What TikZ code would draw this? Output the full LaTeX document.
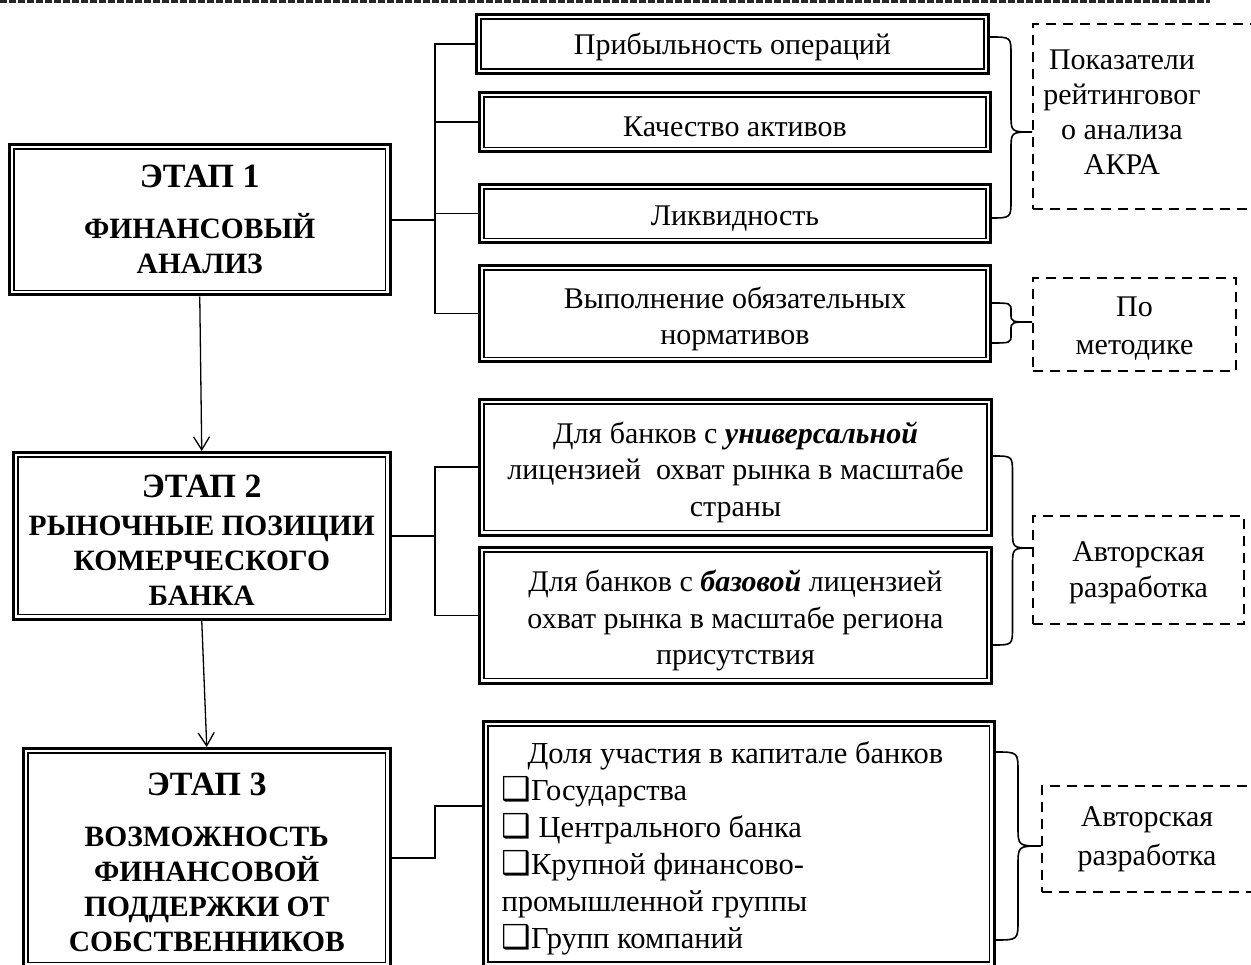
\documentclass[tikz,border=0pt]{standalone}
\usepackage{fontspec}
\setmainfont{Liberation Serif}
\newfontfamily\symfont{DejaVu Sans}
\usetikzlibrary{arrows.meta}
\newcommand{\cbx}{{\symfont\fontsize{33}{33}\selectfont ❑}}
\newcommand{\st}[1]{\rule{0pt}{#1pt}}
\newcommand{\mybrace}[6]{%
  \pgfmathsetmacro{\bxm}{(#1+#4)/2}%
  \draw[brc] (#1,#2) .. controls (\bxm,#2) .. (\bxm,#2+#6) -- (\bxm,#5-#6)
    .. controls (\bxm,#5) .. (#4,#5) .. controls (\bxm,#5) .. (\bxm,#5+#6)
    -- (\bxm,#3-#6) .. controls (\bxm,#3) .. (#1,#3);}
\begin{document}
\begin{tikzpicture}[x=1pt,y=-1pt,
  box/.style={draw, line width=3pt, inner sep=0pt, align=center,
    font=\fontsize{30}{36.5}\selectfont},
  stage/.style={box, font=\bfseries\fontsize{29.5}{35}\selectfont},
  dbox/.style={draw, dash pattern=on 10pt off 7pt, line width=2.5pt, inner sep=0pt,
    align=center, font=\fontsize{30}{36}\selectfont},
  lbl/.style={align=center, inner sep=0pt, font=\fontsize{30}{35}\selectfont},
  innerline/.style={line width=1.8pt},
  conn/.style={line width=1.5pt},
  arr/.style={line width=1.3pt, -{Straight Barb[length=13pt,width=16pt,line width=1.3pt]}},
  brc/.style={line width=1.6pt}]
\useasboundingbox (0,0) rectangle (1251,965);
\clip (0,0) rectangle (1251,965);

% top dashed rule
\draw[dash pattern=on 7pt off 2pt, line width=2.2pt, black!85] (0,1.5) -- (1210,1.5);

% stage boxes
\node[stage, minimum width=380.5pt, minimum height=150.5pt] (s1) at (199.75,219.75)
  {{\fontsize{34}{40}\selectfont ЭТАП 1}\\[16pt] ФИНАНСОВЫЙ\\ АНАЛИЗ};
\node[stage, minimum width=376.5pt, minimum height=166.5pt] (s2) at (201.75,535.75)
  {\st{31}{\fontsize{34}{40}\selectfont ЭТАП 2}\\[3pt] РЫНОЧНЫЕ ПОЗИЦИИ\\ КОМЕРЧЕСКОГО\\ БАНКА};
\node[stage, minimum width=366.5pt, minimum height=218.5pt] (s3) at (206.75,857.75)
  {\st{31}{\fontsize{34}{40}\selectfont ЭТАП 3}\\[16pt] ВОЗМОЖНОСТЬ\\ ФИНАНСОВОЙ\\ ПОДДЕРЖКИ ОТ\\ СОБСТВЕННИКОВ};

% right boxes
\node[box, minimum width=512pt, minimum height=59pt] (b1) at (732.5,44) {\st{27}Прибыльность операций};
\node[box, minimum width=511pt, minimum height=59.5pt] (b2) at (735,122.25) {\st{28}Качество активов};
\node[box, minimum width=511pt, minimum height=58.5pt] (b3) at (735,213.75) {\st{30}Ликвидность};
\node[box, minimum width=511pt, minimum height=96.5pt] (b4) at (735,313.75)
  {\st{32}Выполнение обязательных\\ нормативов};
\node[box, minimum width=512pt, minimum height=135.5pt] (b5) at (735.5,467.25)
  {\st{31}Для банков с \textbf{\textit{универсальной}}\\ лицензией~ охват рынка в масштабе\\ страны};
\node[box, minimum width=512pt, minimum height=135.5pt] (b6) at (735.5,615.25)
  {\st{32}Для банков с \textbf{\textit{базовой}} лицензией\\ охват рынка в масштабе региона\\ присутствия};
\node[box, minimum width=510.5pt, minimum height=245pt, align=flush left, text width=474.5pt,
  inner xsep=18pt, font=\fontsize{30.5}{37}\selectfont] (b7) at (738.75,844)
  {\st{31}\hspace*{26pt}Доля участия в капитале банков\\
   \cbx Государства\\
   \cbx\ Центрального банка\\
   \cbx Крупной финансово-\\
   промышленной группы\\
   \cbx Групп компаний};

% inner lines of double frames
\foreach \n in {s1,s2,s3,b1,b2,b3,b4,b5,b6,b7}
  \draw[innerline] ([shift={(6pt,-6pt)}]\n.north west) rectangle ([shift={(-6pt,6pt)}]\n.south east);

% dashed boxes
\node[dbox, minimum width=242pt, minimum height=185pt] (d1) at (1154,116.5) {};
\node[lbl] (d1t) at (1122,112) {Показатели\\ рейтинговог\\ о анализа\\ АКРА};
\node[dbox, minimum width=203pt, minimum height=93pt] (d2) at (1134.5,324.5) {\st{28}По\\[2pt] методике};
\node[dbox, minimum width=211pt, minimum height=108pt] (d3) at (1138.5,570) {\st{26}Авторская\\ разработка};
\node[dbox, minimum width=228pt, minimum height=106pt] (d4) at (1156,839) {};
\node[lbl] (d4t) at (1147,839) {Авторская\\[4pt] разработка};

% connectors stage 1
\coordinate (j1) at (435,219.75);
\draw[conn, line width=2.2pt] (s1.east) -- (j1);
\draw[conn] (b1.west) -| (j1) |- (b4.west);
\draw[conn] (b2.west) -- (b2.west -| j1);
\draw[conn] (b3.west) -- (b3.west -| j1);
% stage 2
\coordinate (j2) at (435,535.75);
\draw[conn] (s2.east) -- (j2);
\draw[conn] (b5.west) -| (j2) |- (b6.west);
% stage 3
\coordinate (j3) at (435,806);
\draw[conn] (s3.east) -| (j3) -- (j3 -| b7.west);

% arrows between stages
\draw[arr] (s1.south) -- (s2.north);
\draw[arr] (s2.south) -- (s3.north);

% braces
\mybrace{990}{37}{218}{1032}{132}{18}
\mybrace{990}{303}{343}{1032}{322}{8}
\mybrace{993}{456}{645}{1032}{548}{18}
\mybrace{995}{752}{940}{1041}{846}{20}
\end{tikzpicture}
\end{document}
